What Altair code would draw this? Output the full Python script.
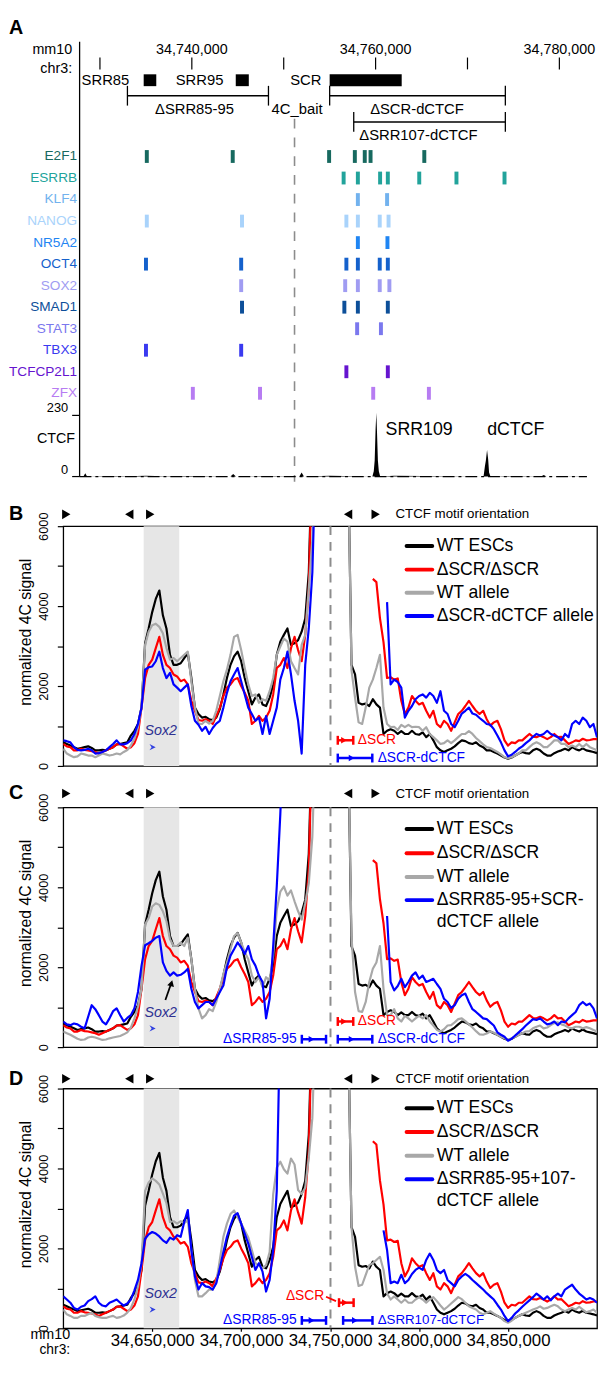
import altair as alt
import pandas as pd

FONT = "Liberation Sans"
RED = "#ff0000"
BLUE = "#0000ff"
GRAY = "#a8a8a8"

# ---------------- Panel A : browser view ----------------
A_TICK_POS = [34730000, 34740000, 34750000, 34760000, 34770000, 34780000]
A_TICK_LABEL_POS = [34740000, 34760000, 34780000]

ELEMENT_NAMES = ["SRR85", "SRR95", "SCR"]
ELEMENT_START = [34734760, 34744780, 34755000]
ELEMENT_END = [34736130, 34746200, 34762840]
ELEMENT_LABEL_AT = [34728003, 34738247, 34750703]

DEL_NAMES = ["ΔSRR85-95", "ΔSCR-dCTCF", "ΔSRR107-dCTCF"]
DEL_START = [34732990, 34755000, 34757620]
DEL_END = [34748340, 34774120, 34774120]
DEL_LABEL_AT = [34740287, 34764500, 34764660]

BAIT_A = 34751177
BAIT_LABEL_AT = 34751450
A_LEFT = 34727786

TF_NAMES = ["E2F1", "ESRRB", "KLF4", "NANOG", "NR5A2", "OCT4", "SOX2",
            "SMAD1", "STAT3", "TBX3", "TCFCP2L1", "ZFX"]
TF_COLORS = ["#17695f", "#22a39b", "#72b2ee", "#a9d3fb", "#1f85f3", "#1561cc",
             "#a09cf2", "#0d4f99", "#7b78ee", "#3a3af0", "#6514cf", "#b77cf2"]
TF_SITES = [
    [34735100, 34744450, 34754940, 34757740, 34758820, 34759450, 34765300],
    [34756520, 34758070, 34760490, 34761330, 34764750, 34768800, 34774030],
    [34758070, 34761250],
    [34735100, 34745460, 34756820, 34758070, 34760450, 34761410],
    [34758070, 34761290],
    [34735010, 34745370, 34756820, 34758070, 34760450, 34761330],
    [34745370, 34756690, 34758070, 34760450, 34761500],
    [34745460, 34756600, 34758070, 34761330],
    [34757990, 34760580],
    [34735010, 34745370],
    [34756820, 34761330],
    [34740110, 34747420, 34759740, 34765800],
]

CTCF_POS = [34727786, 34728200, 34728400, 34728600, 34731000, 34733000, 34735000,
            34737000, 34740000, 34744200, 34744500, 34744800, 34748000, 34751700,
            34751950, 34752200, 34755000, 34759650, 34759800, 34759900, 34760000,
            34760080, 34760150, 34760250, 34760350, 34760500, 34762000, 34765000,
            34768000, 34771750, 34771900, 34772000, 34772130, 34772250, 34772350,
            34772500, 34775000, 34778000, 34778300, 34778600, 34782900]
CTCF_VAL = [0, 0, 12, 0, 2, 1, 3, 1, 2, 0, 10, 0, 2, 0, 15, 0, 3, 0, 20, 60,
            180, 240, 170, 60, 20, 0, 3, 2, 1, 0, 40, 60, 100, 65, 15, 0, 2, 0, 6, 0, 1]
CTCF_PEAK_NAMES = ["SRR109", "dCTCF"]
CTCF_PEAK_LABEL_AT = [34761090, 34772140]

# ---------------- Panels B-D : 4C profiles (2 kb bins, 34.600-34.900 Mb) ----------------
BIN_KB = list(range(34600, 34901, 2))
OFF = 8000  # above the 6000 axis limit

WT_ESC = [590, 550, 510, 470, 430, 450, 470, 490, 450, 390,
          390, 400, 390, 430, 470, 540, 550, 570, 590, 760,
          880, 1050, 1460, 3070, 3440, 3850, 4180, 4390, 3770, 3440,
          2780, 2530, 2530, 2570, 2700, 2820, 2200, 1460, 1300, 1210,
          1230, 1170, 1150, 1210, 1420, 1790, 2200, 2530, 2740, 2860,
          2620, 2200, 1870, 1540, 1710, 1790, 1540, 1500, 1710, 2040,
          2780, 3110, 3280, 3440, 3030, 3070, 3150, 3360, 3690, 4840,
          OFF, OFF, OFF, OFF, OFF, OFF, OFF, OFF, OFF, OFF,
          OFF, 2530, 2290, 1580, 1540, 1560, 1500, 1670, 1540, 1460,
          800, 880, 920, 880, 800, 870, 800, 800, 880, 800,
          780, 840, 720, 800, 640, 470, 390, 350, 390, 430,
          490, 570, 640, 620, 570, 550, 590, 510, 470, 390,
          390, 350, 310, 260, 210, 180, 210, 260, 310, 350,
          320, 310, 390, 430, 390, 310, 260, 260, 320, 360,
          390, 430, 390, 470, 420, 390, 440, 390, 370, 350,
          320]

DSCR_DSCR = [550, 490, 470, 390, 390, 430, 400, 390, 370, 350,
             310, 350, 390, 430, 470, 540, 550, 490, 430, 470,
             570, 800, 1460, 2200, 2530, 2660, 2950, 3230, 2780, 2530,
             2450, 2290, 2240, 2120, 2160, 2040, 1630, 1380, 1150, 1130,
             1170, 1130, 1050, 1250, 1460, 1750, 1960, 2040, 2160, 2200,
             2000, 1830, 1630, 1050, 1130, 1250, 1130, 1210, 1380, 1790,
             2450, 2530, 2700, 2450, 2950, 3230, 2900, 2620, 3280, 4430,
             OFF, None, None, None, None, None, None, None, None, None,
             None, None, None, None, None, None, None, 4680, 4600, 3700,
             3100, 2200, 2220, 2160, 2190, 1630, 1300, 1460, 1750, 1630,
             1540, 1580, 1380, 1210, 1380, 1050, 970, 1130, 1050, 880,
             1090, 1300, 1380, 1500, 1630, 1500, 1380, 1300, 1380, 1170,
             1010, 1090, 1130, 920, 640, 510, 590, 570, 640, 640,
             720, 800, 730, 720, 760, 720, 670, 720, 800, 720,
             730, 640, 550, 590, 640, 620, 680, 640, 650, 670,
             670]

WT_ALLELE_B = [430, 310, 260, 220, 240, 310, 290, 260, 260, 220,
               260, 310, 290, 260, 280, 310, 290, 350, 400, 510,
               680, 970, 1460, 3030, 3360, 3520, 3560, 3480, 3320, 2950,
               2660, 2700, 2620, 2700, 2780, 2860, 2120, 1460, 1060, 1050,
               1130, 1060, 1130, 1380, 1750, 2120, 2410, 2780, 3230, 3280,
               2900, 2450, 2040, 1750, 1790, 1580, 1670, 1630, 1870, 2200,
               2780, 2990, 3190, 3110, 2620, 2450, 2290, 3030, 3280, 4430,
               5670, OFF, OFF, OFF, OFF, OFF, OFF, OFF, OFF, OFF,
               OFF, 2400, 1710, 1090, 1050, 1460, 1960, 2160, 2450, 2780,
               1460, 1050, 970, 980, 900, 1030, 970, 1030, 970, 980,
               970, 880, 970, 800, 720, 640, 550, 570, 640, 570,
               640, 720, 800, 800, 870, 800, 700, 620, 540, 470,
               450, 400, 350, 290, 220, 190, 220, 260, 310, 390,
               390, 470, 550, 590, 550, 470, 470, 550, 640, 640,
               550, 550, 470, 510, 470, 550, 470, 550, 470, 430,
               390]

ALLELE_B = [640, 620, 590, 470, 400, 390, 400, 430, 390, 310,
            320, 350, 390, 470, 550, 640, 540, 540, 570, 640,
            800, 1050, 1460, 2410, 2470, 2490, 2620, 2860, 2450, 2200,
            2330, 2040, 1960, 1870, 1960, 2040, 1500, 1130, 1030, 880,
            980, 800, 950, 1060, 1130, 1460, 1830, 2120, 2290, 2450,
            2120, 1790, 1460, 1300, 1130, 1210, 800, 1250, 800, 1130,
            1460, 2160, 2450, 2860, 2290, 1630, 1130, 310, 2530, 3440,
            4840, OFF, None, None, None, None, None, None, None, None,
            None, None, None, None, None, None, None, None, None, None,
            None, 4100, 2040, 2160, 2100, 1960, 1210, 1380, 1500, 1670,
            1750, 1790, 1710, 1830, 1750, 1580, 1870, 1380, 1300, 1050,
            970, 1130, 1310, 1380, 1460, 1310, 1280, 1200, 1130, 1050,
            1030, 920, 760, 590, 390, 240, 280, 350, 430, 490,
            570, 640, 730, 800, 760, 800, 880, 800, 760, 720,
            640, 800, 720, 1050, 1130, 1050, 1210, 1130, 970, 1050,
            720]

WT_ALLELE_C = [390, 350, 310, 260, 210, 180, 190, 240, 260, 240,
               210, 180, 190, 220, 240, 260, 280, 320, 370, 490,
               720, 1010, 1460, 3070, 3230, 3520, 3600, 3560, 3400, 3150,
               2700, 2530, 2530, 2620, 2530, 2740, 2200, 1460, 970, 720,
               800, 950, 900, 1130, 1460, 1830, 2120, 2450, 2780, 2850,
               2620, 2380, 2200, 1790, 1630, 1750, 1500, 1750, 1670, 2290,
               3440, 3890, 4020, 3790, 3920, 3650, 3400, 3190, 3600, 4100,
               5260, OFF, OFF, OFF, OFF, OFF, OFF, OFF, OFF, OFF,
               OFF, 2780, 1380, 900, 880, 1130, 1630, 1960, 2120, 2530,
               1460, 800, 800, 950, 720, 640, 780, 720, 640, 720,
               780, 720, 800, 640, 540, 430, 390, 450, 540, 550,
               620, 700, 720, 650, 570, 490, 400, 320, 310, 340,
               390, 360, 310, 260, 220, 180, 220, 260, 310, 350,
               390, 400, 470, 510, 540, 470, 490, 550, 600, 620,
               570, 540, 490, 470, 510, 510, 470, 500, 470, 430,
               390]

ALLELE_C = [640, 570, 550, 590, 570, 510, 470, 760, 1050, 950,
            800, 640, 570, 720, 900, 970, 800, 640, 730, 800,
            970, 1380, 2040, 2550, 2600, 2660, 2740, 2780, 2120, 1910,
            1790, 1870, 1790, 1810, 1870, 1960, 1460, 1130, 970, 1050,
            1130, 1130, 1050, 1210, 1380, 1540, 2000, 2290, 2450, 2620,
            2490, 2330, 2530, 2200, 2040, 1790, 1630, 720, 1210, 2530,
            4020, 5830, OFF, None, None, None, None, None, None, None,
            None, None, None, None, None, None, None, None, None, None,
            None, None, None, None, None, None, None, None, None, None,
            None, 3280, 1630, 1420, 1530, 1710, 1500, 1630, 1790, 1870,
            1710, 1790, 1630, 1670, 1710, 1580, 1460, 1210, 1130, 980,
            1050, 1210, 1300, 1340, 1130, 950, 880, 800, 720, 700,
            620, 540, 370, 310, 260, 160, 210, 290, 370, 450,
            540, 620, 700, 680, 720, 640, 570, 590, 640, 550,
            640, 620, 720, 800, 880, 1050, 1130, 1050, 1090, 970,
            720]

WT_ALLELE_D = [470, 350, 310, 260, 260, 310, 310, 350, 390, 310,
               280, 260, 260, 290, 310, 260, 280, 320, 390, 510,
               720, 1050, 1630, 3440, 3650, 3750, 3690, 3600, 3370, 3130,
               2660, 2680, 2620, 2680, 2630, 2700, 1960, 1210, 800, 800,
               880, 970, 970, 1150, 1710, 2290, 2620, 2860, 2950, 2780,
               2620, 2450, 2270, 1960, 1630, 1580, 1500, 1580, 1910, 3360,
               4020, 4170, 3980, 3870, 4250, 4100, 3460, 3360, 3520, 4270,
               5260, OFF, OFF, OFF, OFF, OFF, OFF, OFF, OFF, OFF,
               OFF, 2530, 1540, 1060, 1090, 1340, 1580, 1630, 1710, 1790,
               1460, 870, 720, 800, 720, 640, 720, 640, 640, 720,
               780, 720, 640, 720, 780, 680, 570, 470, 540, 620,
               700, 780, 730, 640, 550, 510, 470, 390, 350, 390,
               430, 370, 310, 260, 180, 140, 190, 260, 310, 350,
               390, 430, 470, 500, 550, 490, 510, 550, 590, 550,
               470, 430, 470, 510, 470, 540, 470, 400, 430, 470,
               390]

ALLELE_D = [800, 720, 640, 510, 470, 540, 570, 680, 730, 800,
            640, 570, 550, 640, 680, 720, 640, 570, 620, 720,
            950, 1210, 1630, 2240, 2350, 2410, 2370, 2300, 2200, 2140,
            2270, 2220, 2330, 2290, 2660, 2960, 1960, 1300, 970, 1130,
            1050, 1030, 970, 1130, 1500, 1910, 2290, 2570, 2820, 2880,
            2620, 2370, 2120, 1790, 1460, 1630, 1420, 920, 1210, 1960,
            3440, OFF, None, None, None, None, None, None, None, None,
            None, None, None, None, None, None, None, None, None, None,
            None, None, None, None, None, None, None, None, None, None,
            2450, 1960, 1130, 1170, 1130, 1340, 1130, 1210, 1360, 1460,
            1520, 1460, 1710, 1870, 1710, 1460, 1380, 1460, 1210, 1130,
            1050, 1210, 1300, 1360, 1300, 1210, 1130, 1050, 970, 880,
            800, 720, 590, 470, 310, 180, 260, 370, 450, 540,
            620, 700, 780, 870, 800, 720, 800, 700, 800, 870,
            800, 970, 1030, 1090, 970, 870, 800, 720, 760, 720,
            640]

MOTIF_KB = [34601.7, 34637.1, 34648.9, 34760.1, 34775.6]
MOTIF_DIR = ["right", "left", "right", "left", "right"]
SOX2_REGION = [34645200, 34665200]
BAIT_B = 34750200

# ---------------- helpers ----------------
ONE = pd.DataFrame({"k": [0]})
XA = alt.Scale(domain=[34726006, 34784097], nice=False, zero=False)
XB = alt.Scale(domain=[34600000, 34900000], nice=False, zero=False)
YB = alt.Scale(domain=[0, 6000], nice=False, zero=False)
CY = alt.Scale(domain=[0, 230], range=[464.7, 402.7], nice=False, zero=False)
PW, PH = 541, 243

Y_AXIS = alt.Axis(values=[0, 1000, 2000, 3000, 4000, 5000, 6000], format="d",
                  labelExpr="datum.value % 2000 == 0 ? datum.label : ''",
                  labelAngle=270, labelAlign="center", labelBaseline="bottom", labelFontSize=13,
                  labelPadding=7, labelOverlap=False, labelColor="black",
                  tickSize=6, tickColor="black", tickWidth=1.2, domain=False, grid=False,
                  title="normalized 4C signal", titleFontSize=16, titleFontWeight="normal",
                  titleAngle=270, titleX=-30, titleY=107, titleBaseline="bottom",
                  titleAlign="center", titleColor="black")
X_AXIS = alt.Axis(values=[34650000, 34700000, 34750000, 34800000, 34850000], format=",d",
                  labelFontSize=17, tickSize=3, tickColor="black", tickWidth=1.2, labelPadding=1,
                  domain=False, grid=False, title=None, labelColor="black",
                  labelFlush=False, labelOverlap=False)
X_HIDDEN = alt.Axis(labels=False, ticks=False, domain=False, grid=False, title=None)


def xd(v, sc, ax=None):
    return alt.XDatum(v, scale=sc, axis=ax)


def text_d(s, xv, y, size, sc, ax=None, color="black", align="left", weight="normal",
           style="normal", baseline="middle"):
    return alt.Chart(ONE).mark_text(text=s, align=align, baseline=baseline, fontSize=size,
                                    color=color, fontWeight=weight, fontStyle=style).encode(
        x=xd(xv, sc, ax), y=alt.value(y))


def text_v(s, xpx, y, size, color="black", align="left", weight="normal", baseline="middle"):
    return alt.Chart(ONE).mark_text(text=s, align=align, baseline=baseline, fontSize=size,
                                    color=color, fontWeight=weight).encode(
        x=alt.value(xpx), y=alt.value(y))


def vrule(xv, y1, y2, sc, ax=None, color="black", w=1.5, dash=None):
    kw = dict(color=color, strokeWidth=w)
    if dash:
        kw["strokeDash"] = dash
    return alt.Chart(ONE).mark_rule(**kw).encode(x=xd(xv, sc, ax), y=alt.value(y1), y2=alt.value(y2))


def hrule(x1, x2, y, sc, ax=None, color="black", w=1.5):
    return alt.Chart(ONE).mark_rule(color=color, strokeWidth=w).encode(
        x=xd(x1, sc, ax), x2=alt.X2Datum(x2), y=alt.value(y))


def del_symbol(x1, x2, y, color, ax):
    mid = x1 + 0.4 * (x2 - x1)
    return [
        hrule(x1, x2, y, XB, ax, color, 2.5),
        vrule(x1, y - 4.5, y + 4.5, XB, ax, color, 2.5),
        vrule(x2, y - 4.5, y + 4.5, XB, ax, color, 2.5),
        alt.Chart(ONE).mark_point(shape="triangle-right", filled=True, size=45, color=color,
                                  opacity=1).encode(x=xd(mid, XB, ax), y=alt.value(y)),
    ]


# ---------------- Panel A ----------------
la = []
la.append(text_v("A", -55, 0, 20, weight="bold", baseline="top"))
la.append(vrule(A_LEFT, 24, 465, XA, w=1.3))
la.append(alt.Chart(pd.DataFrame({"pos": A_TICK_POS})).mark_rule(color="black", strokeWidth=1.2).encode(
    x=alt.X("pos:Q", scale=XA, axis=None), y=alt.value(40), y2=alt.value(52)))
la.append(alt.Chart(pd.DataFrame({"pos": A_TICK_LABEL_POS})).mark_text(fontSize=14.5, baseline="middle").encode(
    x=alt.X("pos:Q", scale=XA, axis=None), y=alt.value(32), text=alt.Text("pos:Q", format=",d")))
la.append(text_v("mm10", 9, 32, 14.5, align="right"))
la.append(text_v("chr3:", 9, 52, 14.5, align="right"))
el = pd.DataFrame({"name": ELEMENT_NAMES, "s": ELEMENT_START, "e": ELEMENT_END, "at": ELEMENT_LABEL_AT})
la.append(alt.Chart(el).mark_rect(color="black").encode(
    x=alt.X("s:Q", scale=XA, axis=None), x2="e:Q", y=alt.value(57), y2=alt.value(69)))
la.append(alt.Chart(el).mark_text(fontSize=15, align="left", baseline="middle").encode(
    x=alt.X("at:Q", scale=XA, axis=None), y=alt.value(63), text="name:N"))
del_y = [78.7, 78.7, 105.3]
lab_y = [92, 92, 119]
for i in range(3):
    y = del_y[i]
    la.append(hrule(DEL_START[i], DEL_END[i], y, XA, w=1.5))
    la.append(vrule(DEL_START[i], y - 10, y + 10, XA, w=1.3))
    la.append(vrule(DEL_END[i], y - 10, y + 10, XA, w=1.3))
    la.append(text_d(DEL_NAMES[i], DEL_LABEL_AT[i], lab_y[i], 15, XA, align="center"))
la.append(text_d("4C_bait", BAIT_LABEL_AT, 92, 15, XA, align="center"))
la.append(vrule(BAIT_A, 102, 470, XA, color="#8c8c8c", w=1.6, dash=[10, 9]))

tf_rows = [(n, p) for n, sites in zip(TF_NAMES, TF_SITES) for p in sites]
tf_df = pd.DataFrame(tf_rows, columns=["tf", "pos"])
TFY = alt.Scale(type="point", domain=TF_NAMES, range=[140.3, 380.3], padding=0)
tf_color = alt.Color("tf:N", scale=alt.Scale(domain=TF_NAMES, range=TF_COLORS), legend=None)
la.append(alt.Chart(tf_df).mark_tick(size=13, thickness=4, opacity=1).encode(
    x=alt.X("pos:Q", scale=XA, axis=None), y=alt.Y("tf:N", scale=TFY, axis=None), color=tf_color))
la.append(alt.Chart(pd.DataFrame({"tf": TF_NAMES})).mark_text(align="right", baseline="middle", fontSize=13.8).encode(
    x=alt.value(14), y=alt.Y("tf:N", scale=TFY, axis=None), text="tf:N", color=tf_color))

ctcf_df = pd.DataFrame({"pos": CTCF_POS, "v": CTCF_VAL})
la.append(alt.Chart(ctcf_df).mark_area(color="black", interpolate="linear").encode(
    x=alt.X("pos:Q", scale=XA, axis=None), y=alt.Y("v:Q", scale=CY, axis=None), y2=alt.Y2Datum(0)))
la.append(alt.Chart(ONE).mark_rule(color="black", strokeWidth=1.3, strokeDash=[12, 4, 3, 4]).encode(
    x=xd(A_LEFT, XA), x2=alt.X2Datum(34783000), y=alt.YDatum(0, scale=CY, axis=None)))
for val in [230, 0]:
    la.append(alt.Chart(ONE).mark_rule(color="black", strokeWidth=1.2).encode(
        x=alt.value(9), x2=alt.value(16.6), y=alt.YDatum(val, scale=CY, axis=None)))
    la.append(alt.Chart(ONE).mark_text(text=str(val), align="right", baseline="bottom", fontSize=13).encode(
        x=alt.value(5), y=alt.YDatum(val, scale=CY, axis=None)))
la.append(text_v("CTCF", 12, 427, 14.5, align="right"))
for nm, at in zip(CTCF_PEAK_NAMES, CTCF_PEAK_LABEL_AT):
    la.append(text_d(nm, at, 418, 18, XA))

panelA = alt.layer(*la).resolve_scale(y="independent").properties(
    width=PW, height=473, view=alt.ViewBackground(stroke="transparent"))


# ---------------- Panels B-D ----------------
def seg_frame(values):
    rows, seg, prev = [], 0, False
    for kb, v in zip(BIN_KB, values):
        if v is None:
            if prev:
                seg += 1
            prev = False
            continue
        rows.append({"pos": kb * 1000, "v": v, "seg": seg})
        prev = True
    return pd.DataFrame(rows)


def annotations(kind, ax):
    out = []
    out += del_symbol(34754300 if kind != "D" else 34755000, 34763000 if kind != "D" else 34763200, 217, RED, ax)
    if kind in ("B", "C"):
        out.append(text_d("ΔSCR", 34765500, 217, 14, XB, ax, color=RED))
        out += del_symbol(34754300, 34773700, 235, BLUE, ax)
        out.append(text_d("ΔSCR-dCTCF", 34776700, 235, 14, XB, ax, color=BLUE))
    if kind in ("C", "D"):
        out += del_symbol(34734100, 34747700, 235, BLUE, ax)
        out.append(text_d("ΔSRR85-95", 34731200, 235, 14, XB, ax, color=BLUE, align="right"))
    if kind == "C":
        out.append(alt.Chart(ONE).mark_rule(color="black", strokeWidth=1.8).encode(
            x=xd(34657400, XB, ax), x2=alt.X2Datum(34660400),
            y=alt.YDatum(1180, scale=YB, axis=Y_AXIS), y2=alt.Y2Datum(1560)))
        out.append(alt.Chart(ONE).mark_point(shape="triangle-up", angle=16, filled=True, size=50,
                                             color="black", opacity=1).encode(
            x=xd(34660800, XB, ax), y=alt.YDatum(1600, scale=YB, axis=Y_AXIS)))
    if kind == "D":
        out.append(text_d("ΔSCR", 34746700, 210, 14, XB, ax, color=RED, align="right"))
        out.append(alt.Chart(ONE).mark_rule(color=RED, strokeWidth=1.8).encode(
            x=xd(34747700, XB, ax), x2=alt.X2Datum(34753300), y=alt.value(211), y2=alt.value(215.5)))
        out += del_symbol(34757300, 34773800, 235, BLUE, ax)
        out.append(text_d("ΔSRR107-dCTCF", 34776700, 235, 13.5, XB, ax, color=BLUE))
        out.append(text_v("mm10", 7, 250, 14.5, align="right"))
        out.append(text_v("chr3:", 7, 265, 14, align="right"))
    return out


def panel(letter, dy, gray, blue, legend, bottom):
    ax = X_AXIS if bottom else X_HIDDEN
    L = []
    L.append(alt.Chart(ONE).mark_rect(color="#e6e6e6").encode(
        x=xd(SOX2_REGION[0], XB, ax), x2=alt.X2Datum(SOX2_REGION[1]), y=alt.value(0), y2=alt.value(PH)))
    L.append(vrule(BAIT_B, 0, PH, XB, ax, color="#8c8c8c", w=2, dash=[9, 7]))
    series = [(WT_ESC, "black"), (DSCR_DSCR, RED), (gray, GRAY), (blue, BLUE)]
    for vals, col in series:
        L.append(alt.Chart(seg_frame(vals)).mark_line(clip=True, color=col, strokeWidth=2.2,
                                                      strokeJoin="round").encode(
            x=alt.X("pos:Q", scale=XB, axis=ax),
            y=alt.Y("v:Q", scale=YB, axis=Y_AXIS),
            detail="seg:N"))
    mot = pd.DataFrame({"pos": [k * 1000 for k in MOTIF_KB], "dir": MOTIF_DIR})
    L.append(alt.Chart(mot).mark_point(filled=True, size=95, color="black", opacity=1).encode(
        x=alt.X("pos:Q", scale=XB, axis=ax), y=alt.value(dy),
        shape=alt.Shape("dir:N", scale=alt.Scale(domain=["right", "left"],
                                                  range=["triangle-right", "triangle-left"]), legend=None)))
    L.append(text_d("CTCF motif orientation", 34786700, dy, 13.5, XB, ax))
    L.append(text_v(letter, -55, dy, 20, weight="bold"))
    L.append(text_d("Sox2", 34654800, 208, 14.5, XB, ax, color="#2e3192", align="center", style="italic"))
    L.append(alt.Chart(ONE).mark_point(shape="M-1,-1L1,0L-1,1L-0.3,0Z", filled=True, size=40,
                                       color="#3040e0", opacity=1).encode(
        x=xd(34650200, XB, ax), y=alt.value(224)))
    L.extend(annotations(letter, ax))
    for txt, col, y in legend:
        if col:
            L.append(alt.Chart(ONE).mark_rule(color=col, strokeWidth=4, strokeCap="round").encode(
                x=alt.value(348), x2=alt.value(374), y=alt.value(y)))
        L.append(text_v(txt, 378.5, y, 17.8))
    return alt.layer(*L).properties(width=PW, height=PH)


legB = [("WT ESCs", "black", 20), ("ΔSCR/ΔSCR", RED, 44), ("WT allele", GRAY, 67.5),
        ("ΔSCR-dCTCF allele", BLUE, 91)]
legC = [("WT ESCs", "black", 22), ("ΔSCR/ΔSCR", RED, 46.5), ("WT allele", GRAY, 70.5),
        ("ΔSRR85-95+SCR-", BLUE, 94), ("dCTCF allele", None, 116)]
legD = [("WT ESCs", "black", 20), ("ΔSCR/ΔSCR", RED, 44), ("WT allele", GRAY, 68),
        ("ΔSRR85-95+107-", BLUE, 92), ("dCTCF allele", None, 114)]

panelB = panel("B", -12, WT_ALLELE_B, ALLELE_B, legB, False)
panelC = panel("C", -14, WT_ALLELE_C, ALLELE_C, legC, False)
panelD = panel("D", -10, WT_ALLELE_D, ALLELE_D, legD, True)

chart = alt.vconcat(panelA, panelB, panelC, panelD, spacing=42, bounds="flush").properties(
    padding=0
).configure(font=FONT).configure_view(stroke="black", strokeWidth=1.3)

chart.save("out.html", embed_options={"renderer": "svg", "actions": False})
